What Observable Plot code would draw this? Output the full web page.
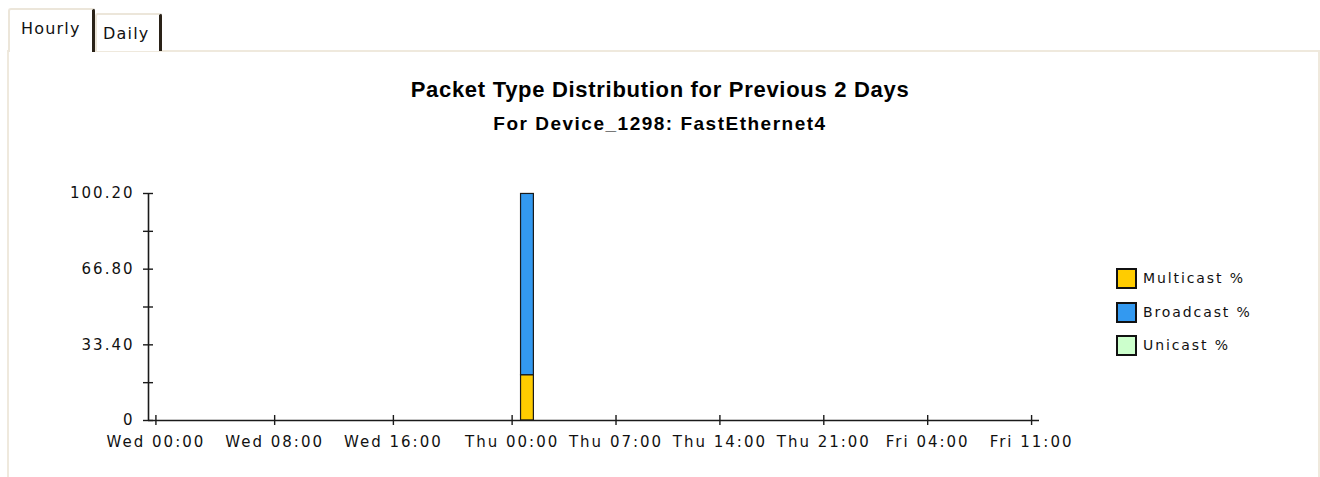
<!DOCTYPE html>
<html>
<head>
<meta charset="utf-8">
<script src="https://cdn.jsdelivr.net/npm/d3@7"></script>
<script src="https://cdn.jsdelivr.net/npm/@observablehq/plot@0.6"></script>
<style>
  html, body { margin: 0; padding: 0; background: #ffffff; }
  body { width: 1320px; height: 477px; position: relative; overflow: hidden; font-family: "DejaVu Sans", sans-serif; color: #111; }
  .tab { position: absolute; box-sizing: border-box; background: #fff; border-left: 2px solid #ece6da; border-top: 2px solid #ece6da; border-right: 3px solid #2a2218; border-radius: 3px 3px 0 0; font-size: 16px; letter-spacing: 1.2px; }
  #hourly { left: 8px; top: 8px; width: 87px; height: 44px; padding: 9px 0 0 11px; z-index: 3; }
  #daily { left: 95px; top: 13px; width: 67px; height: 38px; padding: 9px 0 0 6px; z-index: 2; }
  #panel { position: absolute; left: 7px; top: 50px; width: 1313px; height: 440px; box-sizing: border-box; border-left: 2px solid #efe9dd; border-top: 2px solid #efe9dd; border-right: 2px solid #efe9dd; z-index: 1; }
  #chart { position: absolute; left: 0; top: 0; z-index: 4; }
  .title { position: absolute; left: 0; width: 1320px; text-align: center; font-family: "Liberation Sans", Arial, sans-serif; font-weight: bold; color: #000; z-index: 5; line-height: normal; }
  #t1 { top: 77px; font-size: 22px; letter-spacing: 0.7px; }
  #t2 { top: 113px; font-size: 19px; letter-spacing: 1.5px; }
  #legend { position: absolute; left: 1116px; top: 268px; z-index: 5; }
  .lrow { height: 33.7px; display: flex; align-items: flex-start; }
  .sw { width: 17px; height: 17px; border: 2px solid #111; box-sizing: content-box; }
  .lt { font-size: 14px; letter-spacing: 1.9px; margin-left: 6px; line-height: 21px; color: #111; }
  #chart svg text { letter-spacing: 2px; }
</style>
</head>
<body>
<div class="tab" id="hourly">Hourly</div>
<div class="tab" id="daily">Daily</div>
<div id="panel"></div>
<div class="title" id="t1">Packet Type Distribution for Previous 2 Days</div>
<div class="title" id="t2">For Device_1298: FastEthernet4</div>
<div id="chart"></div>
<div id="legend"></div>
<script>
// ---- data ----
const seriesNames = ["Multicast %", "Broadcast %", "Unicast %"];
const seriesColors = ["#ffcc00", "#3399f0", "#ccffcc"];
const barTimes = ["2008-01-03T01:00"];
const multicast = [20];
const broadcast = [80];
const unicast = [0];
const xDomain = ["2008-01-01T23:30", "2008-01-04T11:32"];
const xTickTimes = ["2008-01-02T00:00", "2008-01-02T08:00", "2008-01-02T16:00", "2008-01-03T00:00", "2008-01-03T07:00", "2008-01-03T14:00", "2008-01-03T21:00", "2008-01-04T04:00", "2008-01-04T11:00"];
const xTickLabels = ["Wed 00:00", "Wed 08:00", "Wed 16:00", "Thu 00:00", "Thu 07:00", "Thu 14:00", "Thu 21:00", "Fri 04:00", "Fri 11:00"];
const yTicks = [0, 33.4, 66.8, 100.2];
const yMinorTicks = [16.7, 50.1, 83.5];
const yTickLabels = ["0", "33.40", "66.80", "100.20"];
const yMax = 100.2;

// ---- build ----
const parse = s => new Date(s + ":00Z");
const rows = [];
barTimes.forEach((t, i) => {
  const seriesVals = [multicast[i], broadcast[i], unicast[i]];
  seriesNames.forEach((name, k) => {
    const d = parse(t);
    rows.push({ t0: d3.utcMinute.offset(d, -30), t1: d3.utcMinute.offset(d, 30), series: name, value: seriesVals[k] });
  });
});
const drawRows = rows.filter(r => r.value > 0);
const xTicks = xTickTimes.map(parse);
const xLabelMap = new Map(xTicks.map((d, i) => [+d, xTickLabels[i]]));
const yLabelMap = new Map(yTicks.map((d, i) => [d, yTickLabels[i]]));
const dom = xDomain.map(parse);

const chart = Plot.plot({
  width: 1320,
  height: 477,
  marginLeft: 148,
  marginRight: 281,
  marginTop: 193,
  marginBottom: 57,
  x: { type: "utc", domain: dom },
  y: { domain: [0, yMax] },
  color: { domain: seriesNames, range: seriesColors },
  style: { fontFamily: "DejaVu Sans", fontSize: "15px", background: "transparent", color: "#111" },
  marks: [
    Plot.rectY(drawRows, Plot.stackY({ x1: "t0", x2: "t1", y: "value", fill: "series", stroke: "#1a1a1a", strokeWidth: 1.2, insetLeft: 1.5, insetRight: 0.5, order: null })),
    Plot.ruleY([0], { stroke: "#1a1a1a", strokeWidth: 1.6 }),
    Plot.ruleX([dom[0]], { stroke: "#1a1a1a", strokeWidth: 1.6 }),
    Plot.axisY(yTicks.concat(yMinorTicks), { tickSize: 10, dx: 5, fill: "none", stroke: "#1a1a1a", strokeWidth: 1.4, label: null }),
    Plot.axisY(yTicks, { tickSize: 0, tickPadding: 14, tickFormat: d => yLabelMap.get(d), label: null, fill: "#111" }),
    Plot.axisX(xTicks, { tickSize: 10, dy: -5, fill: "none", stroke: "#1a1a1a", strokeWidth: 1.4, label: null }),
    Plot.axisX(xTicks, { tickSize: 0, tickPadding: 16, tickFormat: d => xLabelMap.get(+d), label: null, fill: "#111" })
  ]
});
document.getElementById("chart").appendChild(chart);

const legend = document.getElementById("legend");
seriesNames.forEach((name, i) => {
  const row = document.createElement("div");
  row.className = "lrow";
  const sw = document.createElement("div");
  sw.className = "sw";
  sw.style.background = seriesColors[i];
  const lt = document.createElement("div");
  lt.className = "lt";
  lt.textContent = name;
  row.appendChild(sw);
  row.appendChild(lt);
  legend.appendChild(row);
});
</script>
</body>
</html>
